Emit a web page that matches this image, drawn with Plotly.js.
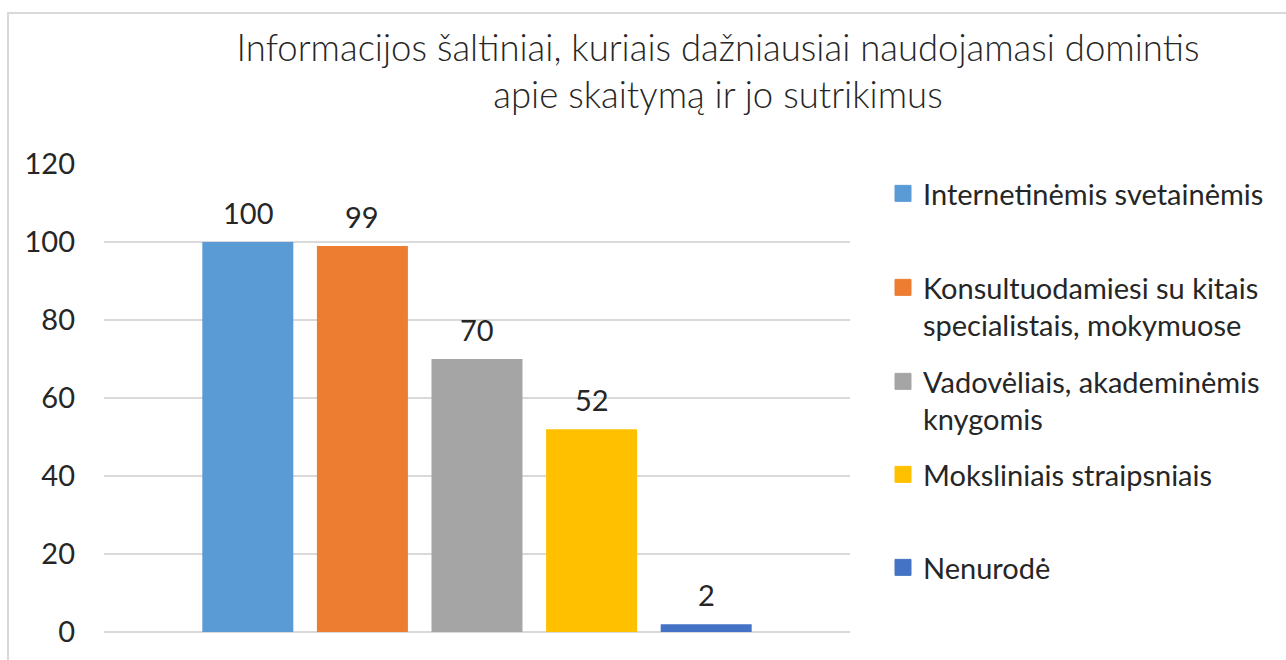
<!DOCTYPE html>
<html><head><meta charset="utf-8">
<script src="https://cdn.plot.ly/plotly-3.0.1.min.js"></script>
<style>body{margin:0;background:#fff}#c{width:1286px;height:660px}</style>
</head><body><div id="c"></div>
<script>
const categories = ["Internetinėmis svetainėmis","Konsultuodamiesi su kitais<br>specialistais, mokymuose","Vadovėliais, akademinėmis<br>knygomis","Moksliniais straipsniais","Nenurodė"];
const values = [100, 99, 70, 52, 2];
const colors = ["#5B9BD5","#ED7D31","#A5A5A5","#FFC000","#4472C4"];
const yTicks = [0,20,40,60,80,100,120];
const titleText = "Informacijos šaltiniai, kuriais dažniausiai naudojamasi domintis<br>apie skaitymą ir jo sutrikimus";

const legendY = [194, 288, 382, 475, 568]; // pixel centres of first line
const plotTop = 164, plotBottom = 632;
const FONT = "Lato, 'Noto Sans', sans-serif";
const TXT = '#262626';

const bars = categories.map((name, i) => ({
  type: 'bar', x: [i], y: [values[i]], name: name,
  marker: {color: colors[i]}, showlegend: false, hoverinfo: 'skip'
}));
const legendTraces = categories.map((name, i) => ({
  type: 'scatter', mode: 'markers', x: [null], y: [null], name: name,
  marker: {symbol: 'square', size: 16, color: colors[i], line: {width: 1, color: colors[i]}},
  legend: i === 0 ? 'legend' : 'legend' + (i + 1), hoverinfo: 'skip'
}));

const annotations = values.map((v, i) => ({
  x: i, y: v, xref: 'x', yref: 'y', text: String(v), showarrow: false,
  yanchor: 'bottom', yshift: 10, font: {family: FONT, size: 29, color: TXT}
}));

const layout = {
  width: 1286, height: 660,
  margin: {l: 104, r: 436, t: 164, b: 28, pad: 0},
  paper_bgcolor: '#fff', plot_bgcolor: '#fff',
  font: {family: FONT, color: TXT},
  title: {text: titleText, font: {family: FONT, size: 36.5, weight: 300, color: TXT},
          x: 718/1286, xanchor: 'center', y: 1 - 61/660, yanchor: 'middle'},
  barmode: 'overlay', bargap: 0.206,
  xaxis: {range: [-1.255, 5.255], showticklabels: false, showgrid: false, zeroline: false, fixedrange: true, ticks: ''},
  yaxis: {range: [0, 120], tickvals: yTicks, showgrid: true, gridcolor: '#D9D9D9', gridwidth: 1.5,
          zeroline: true, zerolinecolor: '#D9D9D9', zerolinewidth: 1.5, showline: false,
          tickfont: {family: FONT, size: 29, color: TXT}, ticklabelstandoff: 28, ticks: ''},
  annotations: annotations,
  shapes: [{type: 'rect', xref: 'paper', yref: 'paper',
            x0: (8-104)/746, x1: 1.7, y0: -0.3, y1: (plotBottom-13)/(plotBottom-plotTop),
            line: {color: '#D9D9D9', width: 2}, fillcolor: 'rgba(0,0,0,0)', layer: 'below'}],
  showlegend: true
};
legendY.forEach((py, i) => {
  const key = i === 0 ? 'legend' : 'legend' + (i + 1);
  layout[key] = {x: (883-104)/746, xanchor: 'left', y: (plotBottom - py + 26)/(plotBottom-plotTop), yanchor: 'top',
    valign: 'top', font: {family: FONT, size: 29, color: TXT}, bgcolor: 'rgba(0,0,0,0)',
    itemwidth: 30, tracegroupgap: 0, itemsizing: 'trace'};
});
Plotly.newPlot('c', bars.concat(legendTraces), layout, {displayModeBar: false, staticPlot: true});
</script></body></html>
